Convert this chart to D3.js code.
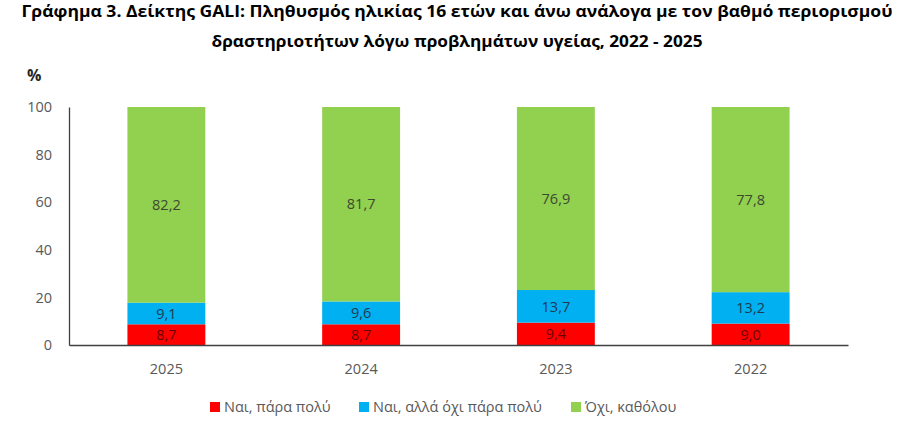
<!DOCTYPE html>
<html>
<head>
<meta charset="utf-8">
<script src="https://cdn.jsdelivr.net/npm/d3@7"></script>
<style>
  body { margin: 0; background: #fff; }
  text { font-family: "Open Sans", "Liberation Sans", sans-serif; }
</style>
</head>
<body>
<svg id="chart"></svg>
<script>
// data
const years = ['2025', '2024', '2023', '2022'];
const seriesNames = ['Ναι, πάρα πολύ', 'Ναι, αλλά όχι πάρα πολύ', 'Όχι, καθόλου'];
const veryMuch = [8.7, 8.7, 9.4, 9.0];
const someWhat = [9.1, 9.6, 13.7, 13.2];
const notAtAll = [82.2, 81.7, 76.9, 77.8];
const yTicks = [0, 20, 40, 60, 80, 100];

const colors = ['#ff0000', '#00b0f0', '#92d050'];
const labelColors = ['#6b0000', '#1f3b52', '#3d4a30'];

const width = 900, height = 433;
const margin = {top: 107, left: 69, right: 52, bottom: 88};

const svg = d3.select('#chart')
    .attr('width', width)
    .attr('height', height);

// build rows for stacking
const rows = years.map((y, i) => ({year: y, s0: veryMuch[i], s1: someWhat[i], s2: notAtAll[i]}));
const stack = d3.stack().keys(['s0', 's1', 's2']);
const stacked = stack(rows);

const x = d3.scaleBand()
    .domain(years)
    .range([margin.left, width - margin.right])
    .paddingInner(0.6)
    .paddingOuter(0.3);

const y = d3.scaleLinear()
    .domain([0, 100])
    .range([height - margin.bottom, margin.top]);

// title
const title = svg.append('g').attr('font-weight', 'bold').attr('fill', '#000').attr('font-size', 16);
title.append('text')
    .attr('x', 457).attr('y', 17)
    .attr('text-anchor', 'middle')
    .attr('textLength', 871).attr('lengthAdjust', 'spacingAndGlyphs')
    .text('Γράφημα 3. Δείκτης GALI: Πληθυσμός ηλικίας 16 ετών και άνω ανάλογα με τον βαθμό περιορισμού');
title.append('text')
    .attr('x', 457).attr('y', 47)
    .attr('text-anchor', 'middle')
    .attr('textLength', 491).attr('lengthAdjust', 'spacingAndGlyphs')
    .text('δραστηριοτήτων λόγω προβλημάτων υγείας, 2022 - 2025');

svg.append('text')
    .attr('x', 27).attr('y', 81)
    .attr('font-size', 16).attr('font-weight', 'bold').attr('fill', '#262626')
    .text('%');

// bars
const layers = svg.append('g').selectAll('g')
    .data(stacked)
    .join('g')
    .attr('fill', (d, i) => colors[i]);

layers.selectAll('rect')
    .data(d => d)
    .join('rect')
    .attr('x', d => x(d.data.year))
    .attr('width', x.bandwidth())
    .attr('y', d => y(d[1]))
    .attr('height', d => y(d[0]) - y(d[1]));

// value labels
stacked.forEach((layer, i) => {
    svg.append('g').selectAll('text')
        .data(layer)
        .join('text')
        .attr('x', d => x(d.data.year) + x.bandwidth() / 2)
        .attr('y', d => (y(d[0]) + y(d[1])) / 2)
        .attr('dy', '0.36em')
        .attr('text-anchor', 'middle')
        .attr('font-size', 14.5)
        .attr('fill', labelColors[i])
        .text(d => d3.format('.1f')(d[1] - d[0]).replace('.', ','));
});

// axes
const yAxis = d3.axisLeft(y).tickValues(yTicks).tickSize(0).tickPadding(17);
const yAxisG = svg.append('g')
    .attr('transform', `translate(${margin.left},0)`)
    .call(yAxis);
yAxisG.select('.domain').attr('stroke', '#404040').attr('stroke-width', 1.3);
yAxisG.selectAll('text').attr('font-size', 14.5).attr('fill', '#595959').attr('font-family', null);

const xAxis = d3.axisBottom(x).tickSize(0).tickPadding(19);
const xAxisG = svg.append('g')
    .attr('transform', `translate(0,${y(0)})`)
    .call(xAxis);
xAxisG.select('.domain').attr('stroke', '#404040').attr('stroke-width', 1.3);
xAxisG.selectAll('text').attr('font-size', 14.5).attr('fill', '#595959').attr('font-family', null);

// legend
const legendX = [210, 359, 571];
const legend = svg.append('g').selectAll('g')
    .data(seriesNames)
    .join('g')
    .attr('transform', (d, i) => `translate(${legendX[i]},412)`);

legend.append('rect')
    .attr('x', 0).attr('y', -10)
    .attr('width', 10).attr('height', 10)
    .attr('fill', (d, i) => colors[i]);

legend.append('text')
    .attr('x', 14).attr('y', 0)
    .attr('font-size', 14.5)
    .attr('fill', '#595959')
    .text(d => d);
</script>
</body>
</html>
